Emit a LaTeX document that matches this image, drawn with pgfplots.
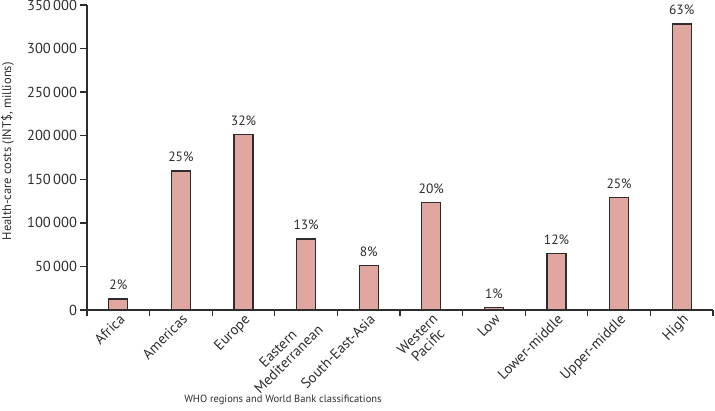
\documentclass[border=0pt]{standalone}
\usepackage{pgfplots}
\pgfplotsset{compat=1.18}
\usepackage{fontspec}
\setmainfont{PT Sans}
\definecolor{barfill}{RGB}{224,167,160}
\definecolor{axgray}{RGB}{45,45,45}
\begin{document}
\begin{tikzpicture}
\begin{axis}[name=ax, scale only axis, width=626pt, height=305pt,
  xmin=-0.5, xmax=9.5, ymin=0, ymax=350000, enlargelimits=false, clip=false,
  axis x line*=bottom, axis y line*=left,
  axis line style={-, axgray, line width=1.3pt},
  ytick={0,50000,100000,150000,200000,250000,300000,350000},
  scaled y ticks=false,
  yticklabel style={font=\fontsize{14.5}{16}\selectfont, text=axgray},
  /pgf/number format/.cd, fixed, 1000 sep={\,}, assume math mode=true, /pgfplots/.cd,
  tick align=outside, major tick length=6.5pt,
  tick style={axgray, line width=1.3pt},
  xtick={-0.5,0.5,...,9.5}, xticklabels={},
  extra x ticks={0,1,2,3,4,5,6,7,8,9},
  extra x tick labels={Africa,Americas,Europe,{Eastern\\Mediterranean},South-East-Asia,{Western\\Pacific},Low,Lower-middle,Upper-middle,High},
  extra x tick style={major tick length=0pt},
  xticklabel style={rotate=45, anchor=north east, align=center, font=\fontsize{14.5}{15}\selectfont, text=axgray, inner sep=2pt},
  xlabel={WHO regions and World Bank classifications},
  xlabel style={at={(rel axis cs:0.313,0)}, anchor=north, yshift=-85pt, font=\fontsize{10.5}{12}\selectfont, text=axgray, inner sep=0pt},
  ylabel={Health-care costs (INT\$, millions)},
  ylabel style={at={(rel axis cs:-0.1374,0.52)}, anchor=north, font=\fontsize{12.5}{14}\selectfont, text=axgray, inner sep=0pt},
]
\addplot[ybar, bar width=19pt, fill=barfill, draw=axgray, line width=1.2pt,
  point meta=explicit symbolic,
  nodes near coords={\pgfplotspointmeta\%},
  nodes near coords style={font=\fontsize{13.5}{14}\selectfont, text=axgray, anchor=south, yshift=5pt}]
  table[meta=p] {
x y p
0 12600 2
1 159500 25
2 201500 32
3 81500 13
4 50800 8
5 123600 20
6 3100 1
7 65000 12
8 128900 25
9 328200 63
};
\end{axis}
\pgfresetboundingbox
\path ([shift={(-87pt,-101pt)}]ax.south west) rectangle ([shift={(2pt,5pt)}]ax.north east);
\end{tikzpicture}
\end{document}
